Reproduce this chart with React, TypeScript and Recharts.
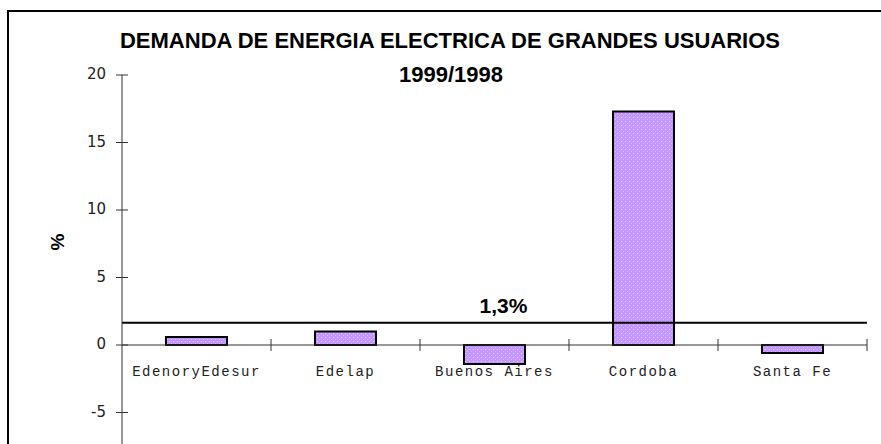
import { Bar, BarChart, ReferenceLine, XAxis, YAxis } from 'recharts'

const CATEGORIES = ['EdenoryEdesur', 'Edelap', 'Buenos Aires', 'Cordoba', 'Santa Fe']
const VARIATION = [0.6, 1.0, -1.4, 17.3, -0.6]
const Y_DOMAIN = [-10, 20]
const Y_TICKS = [-5, 0, 5, 10, 15, 20]
const AVERAGE = 1.65
const AVERAGE_LABEL = '1,3%'
const TITLE = 'DEMANDA DE ENERGIA ELECTRICA DE GRANDES USUARIOS'
const SUBTITLE = '1999/1998'

const data = CATEGORIES.map((name, i) => ({ name, value: VARIATION[i] }))

const INK = '#000000'
const AXIS = '#333333'
const BOLD = '"Liberation Sans", Arial, sans-serif'

function YTick({ x, y, payload }: any) {
  return (
    <g>
      <line x1={x - 6} x2={x + 6} y1={y} y2={y} stroke={AXIS} />
      <text
        x={x - 16}
        y={y + 4}
        textAnchor="end"
        fontFamily='"DejaVu Sans", sans-serif'
        fontSize={15}
        fill="#222"
      >
        {payload.value}
      </text>
    </g>
  )
}

// zero axis with the category ticks and names, placed from the reference line's own coordinates
function ZeroAxis(props: any) {
  const { x1, x2, y1 } = props
  const band = (x2 - x1) / CATEGORIES.length
  return (
    <g>
      <line x1={x1} x2={x2} y1={y1} y2={y1} stroke={AXIS} strokeWidth={1} />
      {CATEGORIES.map((c, i) => (
        <g key={c}>
          <line
            x1={x1 + band * (i + 1)}
            x2={x1 + band * (i + 1)}
            y1={y1 - 6}
            y2={y1 + 6}
            stroke={AXIS}
          />
          <text
            x={x1 + band * (i + 0.5)}
            y={y1 + 31}
            textAnchor="middle"
            fontFamily='"Liberation Mono", monospace'
            fontSize={14}
            letterSpacing={1.5}
            fill="#222"
          >
            {c}
          </text>
        </g>
      ))}
    </g>
  )
}

function AverageLabel(p: any) {
  const { x, y, width } = p.viewBox
  return (
    <text
      x={x + width / 2 + 9}
      y={y - 10}
      textAnchor="middle"
      fontFamily={BOLD}
      fontWeight="bold"
      fontSize={21}
      fill={INK}
    >
      {AVERAGE_LABEL}
    </text>
  )
}

export default function App() {
  return (
    <div
      style={{
        position: 'fixed',
        left: 0,
        top: 0,
        width: 881,
        height: 444,
        overflow: 'hidden',
        background: '#fff',
      }}
    >
      <div
        style={{
          position: 'absolute',
          left: 7,
          top: 10,
          width: 900,
          height: 500,
          border: `2px solid ${INK}`,
          boxSizing: 'border-box',
        }}
      />
      <div style={{ position: 'absolute', left: 0, top: 0 }}>
        <BarChart
          width={881}
          height={480}
          data={data}
          margin={{ top: 75, right: 14, left: 0, bottom: 0 }}
        >
          <defs>
            <pattern id="bar-dots" width="4" height="4" patternUnits="userSpaceOnUse">
              <rect width="4" height="4" fill="#c497ff" />
              <rect x="1" y="1" width="1" height="1" fill="#e4d0ff" />
              <rect x="3" y="3" width="1" height="1" fill="#d6b9ff" />
            </pattern>
          </defs>
          <XAxis dataKey="name" hide />
          <YAxis
            width={122}
            domain={Y_DOMAIN}
            ticks={Y_TICKS}
            interval={0}
            tickSize={0}
            tickMargin={0}
            tickLine={false}
            axisLine={{ stroke: AXIS }}
            tick={<YTick />}
          />
          <Bar
            dataKey="value"
            barSize={61}
            fill="url(#bar-dots)"
            stroke={INK}
            strokeWidth={2}
            isAnimationActive={false}
          />
          <ReferenceLine y={0} shape={ZeroAxis} />
          <ReferenceLine
            y={AVERAGE}
            stroke={INK}
            strokeWidth={2}
            label={AverageLabel}
          />
        </BarChart>
      </div>
      <svg
        width={881}
        height={444}
        style={{ position: 'absolute', left: 0, top: 0, pointerEvents: 'none' }}
      >
        <text
          x={450}
          y={48}
          textAnchor="middle"
          fontFamily={BOLD}
          fontWeight="bold"
          fontSize={22}
          fill={INK}
        >
          {TITLE}
        </text>
        <text
          x={451}
          y={82}
          textAnchor="middle"
          fontFamily={BOLD}
          fontWeight="bold"
          fontSize={22}
          fill={INK}
        >
          {SUBTITLE}
        </text>
        <text
          x={0}
          y={0}
          transform="translate(64 242) rotate(-90)"
          textAnchor="middle"
          fontFamily={BOLD}
          fontWeight="bold"
          fontSize={19}
          fill={INK}
        >
          %
        </text>
      </svg>
    </div>
  )
}
